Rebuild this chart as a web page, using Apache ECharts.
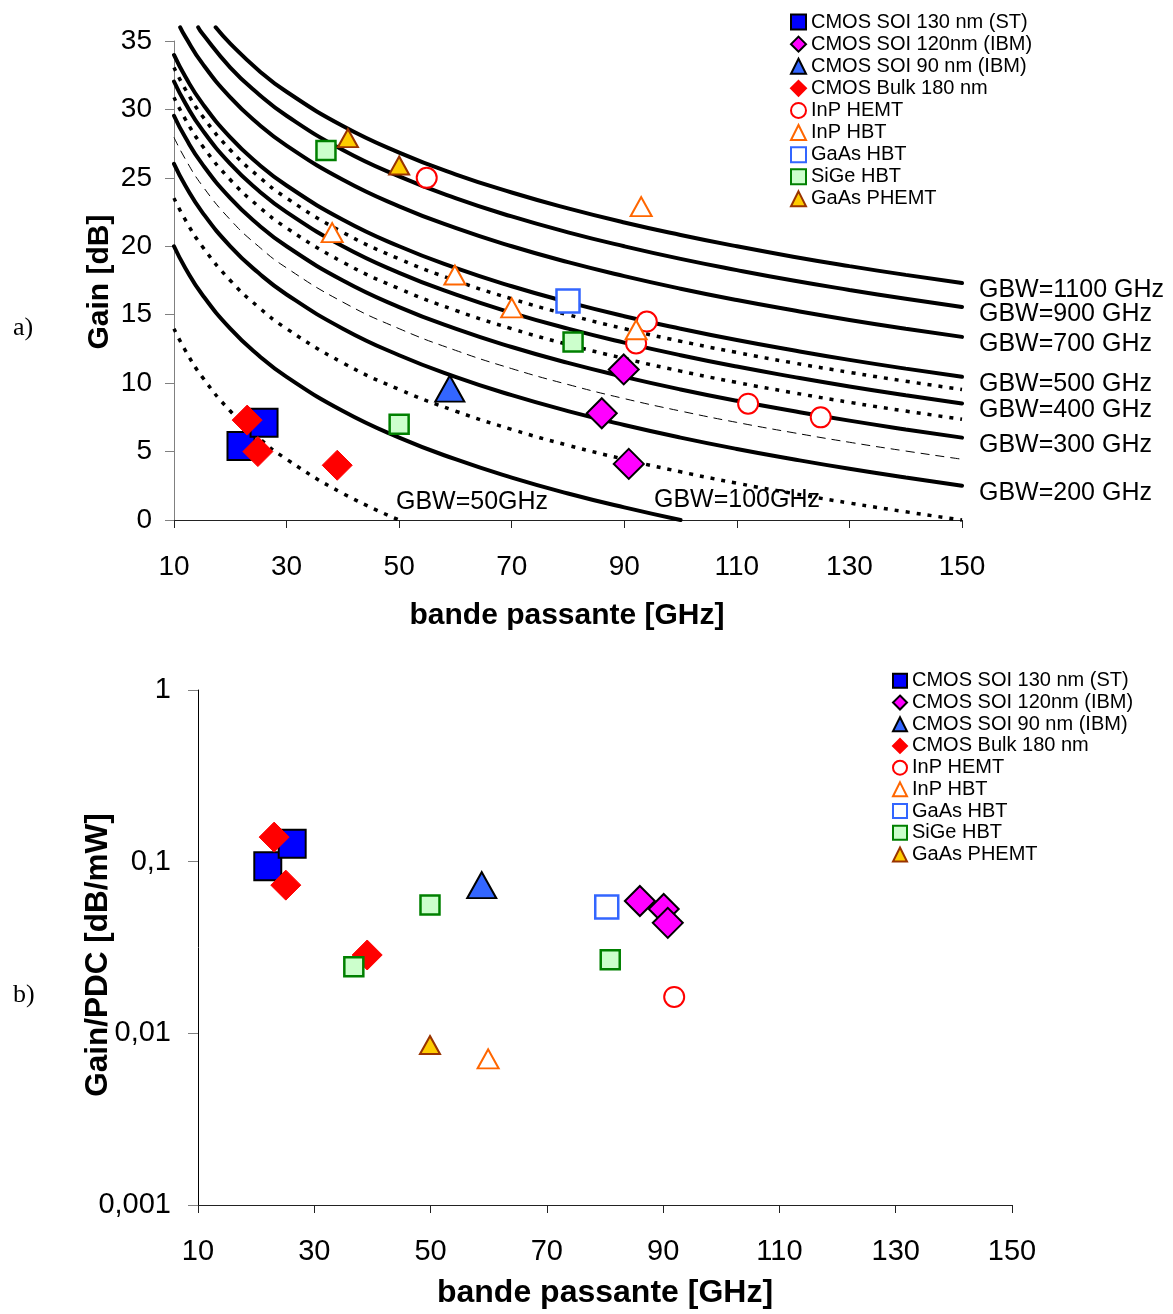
<!DOCTYPE html>
<html>
<head>
<meta charset="utf-8">
<script src="https://cdn.jsdelivr.net/npm/echarts@6/dist/echarts.min.js"></script>
<style>
html,body{margin:0;padding:0;background:#fff;}
#chart{width:1173px;height:1314px;}
</style>
</head>
<body>
<div id="chart"></div>
<script>
// ---------- DATA ----------
const seriesNames = ['CMOS SOI 130 nm (ST)','CMOS SOI 120nm (IBM)','CMOS SOI 90 nm (IBM)','CMOS Bulk 180 nm','InP HEMT','InP HBT','GaAs HBT','SiGe HBT','GaAs PHEMT'];

// GBW iso-curves (gain in dB read along bandwidth samples, GHz)
const bwSamples = [10,12,15,20,25,30,40,50,60,70,80,90,100,110,120,130,140,150];
const gain50   = [13.98,12.40,10.46,7.96,6.02,4.44,1.94,0];
const gain100  = [20.00,18.42,16.48,13.98,12.04,10.46,7.96,6.02,4.44,3.10,1.94,0.92,0];
const gain150  = [23.52,21.94,20.00,17.50,15.56,13.98,11.48,9.54,7.96,6.62,5.46,4.44,3.52,2.69,1.94,1.24,0.60,0];
const gain200  = [26.02,24.44,22.50,20.00,18.06,16.48,13.98,12.04,10.46,9.12,7.96,6.94,6.02,5.19,4.44,3.74,3.10,2.50];
const gain250  = [27.96,26.38,24.44,21.94,20.00,18.42,15.92,13.98,12.40,11.06,9.90,8.87,7.96,7.13,6.38,5.68,5.04,4.44];
const gain300  = [29.54,27.96,26.02,23.52,21.58,20.00,17.50,15.56,13.98,12.64,11.48,10.46,9.54,8.71,7.96,7.26,6.62,6.02];
const gain350  = [30.88,29.30,27.36,24.86,22.92,21.34,18.84,16.90,15.32,13.98,12.82,11.80,10.88,10.05,9.30,8.60,7.96,7.36];
const gain400  = [32.04,30.46,28.52,26.02,24.08,22.50,20.00,18.06,16.48,15.14,13.98,12.96,12.04,11.21,10.46,9.76,9.12,8.52];
const gain450  = [33.06,31.48,29.54,27.04,25.11,23.52,21.02,19.08,17.50,16.16,15.00,13.98,13.06,12.24,11.48,10.79,10.14,9.54];
const gain500  = [33.98,32.40,30.46,27.96,26.02,24.44,21.94,20.00,18.42,17.08,15.92,14.89,13.98,13.15,12.40,11.70,11.06,10.46];
const bw700    = [11.1,12,15,20,25,30,40,50,60,70,80,90,100,110,120,130,140,150];
const gain700  = [36.00,35.32,33.38,30.88,28.94,27.36,24.86,22.92,21.34,20.00,18.84,17.82,16.90,16.07,15.32,14.62,13.98,13.38];
const bw900    = [14.3,15,20,25,30,40,50,60,70,80,90,100,110,120,130,140,150];
const gain900  = [36.00,35.56,33.06,31.13,29.54,27.04,25.11,23.52,22.18,21.02,20.00,19.08,18.26,17.50,16.81,16.16,15.56];
const bw1100   = [17.4,20,25,30,40,50,60,70,80,90,100,110,120,130,140,150];
const gain1100 = [36.00,34.81,32.87,31.29,28.79,26.85,25.26,23.93,22.77,21.74,20.83,20.00,19.24,18.55,17.91,17.31];

// (a) Gain [dB] vs bandwidth [GHz]
const st130Top   = [[21.9,5.4],[26.0,7.1]];
const soi120Top  = [[89.9,11.0],[86.0,7.8],[90.8,4.1]];
const soi90Top   = [[59.0,9.6]];
const bulk180Top = [[23.0,7.3],[24.9,5.0],[39.0,4.0]];
const inpHemtTop = [[54.9,25.0],[94.0,14.5],[92.1,12.9],[112.0,8.5],[124.9,7.5]];
const inpHbtTop  = [[38.1,21.0],[59.9,17.9],[70.0,15.5],[92.1,13.9],[93.0,22.9]];
const gaasHbtTop = [[80.0,16.0]];
const sigeTop    = [[37.0,27.0],[50.0,7.0],[80.9,13.0]];
const phemtTop   = [[40.9,27.9],[50.0,25.9]];

// (b) Gain/PDC [dB/mW] vs bandwidth [GHz]
const st130Bot   = [[22.0,0.094],[26.2,0.127]];
const soi120Bot  = [[86.0,0.059],[90.1,0.053],[90.8,0.044]];
const soi90Bot   = [[58.8,0.073]];
const bulk180Bot = [[23.1,0.139],[25.1,0.073],[39.1,0.0286]];
const inpHemtBot = [[91.9,0.0163]];
const inpHbtBot  = [[59.9,0.0071]];
const gaasHbtBot = [[80.3,0.0545]];
const sigeBot    = [[36.8,0.0244],[49.9,0.056],[80.9,0.0268]];
const phemtBot   = [[49.9,0.00855]];

// ---------- STYLE / BUILD ----------
const FONT = '"Liberation Sans", Arial, sans-serif';
function pairs(xs, ys){ return ys.map((y,i)=>[xs[i], y]); }

const SOLID = {color:'#000', width:4, type:'solid', cap:'round'};
const DOT   = {color:'#000', width:3.5, type:[4,7], cap:'butt'};
const THIN  = {color:'#000', width:1, type:[9,6]};

const curves = [
  {gbw:50,   d:pairs(bwSamples,gain50),  s:DOT},
  {gbw:100,  d:pairs(bwSamples,gain100), s:SOLID},
  {gbw:150,  d:pairs(bwSamples,gain150), s:DOT},
  {gbw:200,  d:pairs(bwSamples,gain200), s:SOLID, label:true},
  {gbw:250,  d:pairs(bwSamples,gain250), s:THIN},
  {gbw:300,  d:pairs(bwSamples,gain300), s:SOLID, label:true},
  {gbw:350,  d:pairs(bwSamples,gain350), s:DOT},
  {gbw:400,  d:pairs(bwSamples,gain400), s:SOLID, label:true},
  {gbw:450,  d:pairs(bwSamples,gain450), s:DOT},
  {gbw:500,  d:pairs(bwSamples,gain500), s:SOLID, label:true},
  {gbw:700,  d:pairs(bw700,gain700),     s:SOLID, label:true},
  {gbw:900,  d:pairs(bw900,gain900),     s:SOLID, label:true},
  {gbw:1100, d:pairs(bw1100,gain1100),   s:SOLID, label:true}
];

const curveSeries = curves.map(c => ({
  type:'line', name:'GBW=' + c.gbw, xAxisIndex:0, yAxisIndex:0,
  data:c.d, showSymbol:false, symbol:'none', smooth:0.5,
  clip:false, silent:true, z:1, lineStyle:c.s,
  endLabel: c.label ? {show:true, formatter:'GBW=' + c.gbw + ' GHz', fontSize:25, fontFamily:FONT, color:'#000', distance:17, offset:[0,7]} : {show:false}
}));

const markerStyles = [
  {symbol:'rect',     size:[27,28], item:{color:'#0000FF', borderColor:'#000', borderWidth:2}},
  {symbol:'diamond',  size:[30,30], item:{color:'#FF00FF', borderColor:'#000', borderWidth:2}},
  {symbol:'triangle', size:[29,26], item:{color:'#3366FF', borderColor:'#000', borderWidth:2}},
  {symbol:'diamond',  size:[30,30], item:{color:'#FF0000', borderColor:'#FF0000', borderWidth:1}},
  {symbol:'circle',   size:[20,20], item:{color:'#FFFFFF', borderColor:'#FF0000', borderWidth:2}},
  {symbol:'triangle', size:[21,19], item:{color:'#FFFFFF', borderColor:'#FF6600', borderWidth:2}},
  {symbol:'rect',     size:[23,23], item:{color:'#FFFFFF', borderColor:'#3366FF', borderWidth:2.5}},
  {symbol:'rect',     size:[19,19], item:{color:'#CCFFCC', borderColor:'#008000', borderWidth:2.5}},
  {symbol:'triangle', size:[20,18], item:{color:'#FFCC00', borderColor:'#993300', borderWidth:2}}
];
const topData = [st130Top, soi120Top, soi90Top, bulk180Top, inpHemtTop, inpHbtTop, gaasHbtTop, sigeTop, phemtTop];
const botData = [st130Bot, soi120Bot, soi90Bot, bulk180Bot, inpHemtBot, inpHbtBot, gaasHbtBot, sigeBot, phemtBot];

function scatterSeries(dataList, axisIdx){
  return dataList.map((d,i)=>({
    type:'scatter', name:seriesNames[i], xAxisIndex:axisIdx, yAxisIndex:axisIdx,
    data:d, symbol:markerStyles[i].symbol, symbolSize:markerStyles[i].size,
    itemStyle:Object.assign({opacity:1}, markerStyles[i].item), z:3 + i*0.01, clip:false
  }));
}

const legendBase = {
  data:seriesNames, orient:'vertical', itemGap:0,
  selectedMode:false, padding:0,
  textStyle:{fontSize:20, fontFamily:FONT, color:'#000'}
};

const axisLabelStyle = {fontSize:28, fontFamily:FONT, color:'#000'};
const axisLabelStyleB = {fontSize:29, fontFamily:FONT, color:'#000'};

const option = {
  animation:false,
  backgroundColor:'#fff',
  grid:[
    {left:174, top:41, width:788, height:479, containLabel:false, outerBoundsMode:'none'},
    {left:198, top:690, width:814, height:515, containLabel:false, outerBoundsMode:'none'}
  ],
  legend:[
    Object.assign({}, legendBase, {left:790, top:11, itemWidth:15, itemHeight:15, textStyle:Object.assign({}, legendBase.textStyle, {lineHeight:22.1})}),
    Object.assign({}, legendBase, {left:892, top:670, itemWidth:14, itemHeight:14, textStyle:Object.assign({}, legendBase.textStyle, {lineHeight:21.7})})
  ],
  xAxis:[
    {gridIndex:0, type:'value', min:10, max:150, interval:20,
     splitLine:{show:false},
     axisLine:{show:true, onZero:false, lineStyle:{color:'#222', width:1}},
     axisTick:{show:true, inside:false, length:8, lineStyle:{color:'#222'}},
     axisLabel:Object.assign({margin:33}, axisLabelStyle)},
    {gridIndex:1, type:'value', min:10, max:150, interval:20,
     splitLine:{show:false},
     axisLine:{show:true, onZero:false, lineStyle:{color:'#222', width:1}},
     axisTick:{show:true, inside:false, length:8, lineStyle:{color:'#222'}},
     axisLabel:Object.assign({margin:32}, axisLabelStyleB)}
  ],
  yAxis:[
    {gridIndex:0, type:'value', min:0, max:35, interval:5,
     splitLine:{show:false},
     axisLine:{show:true, onZero:false, lineStyle:{color:'#808080', width:1}},
     axisTick:{show:true, inside:false, length:9, lineStyle:{color:'#808080'}},
     axisLabel:Object.assign({margin:22}, axisLabelStyle)},
    {gridIndex:1, type:'log', logBase:10, min:0.001, max:1,
     splitLine:{show:false}, minorTick:{show:false},
     axisLine:{show:true, onZero:false, lineStyle:{color:'#000', width:1}},
     axisTick:{show:true, inside:false, length:10, lineStyle:{color:'#808080'}},
     axisLabel:Object.assign({margin:27, formatter:function(v){ return String(Number(Number(v).toPrecision(3))).replace('.', ','); }}, axisLabelStyleB)}
  ],
  graphic:[
    {type:'text', x:100, y:282, rotation:Math.PI/2, style:{text:'Gain [dB]', font:'bold 30px ' + FONT, fill:'#000', align:'center', verticalAlign:'middle'}},
    {type:'text', x:567, y:616, style:{text:'bande passante [GHz]', font:'bold 30px ' + FONT, fill:'#000', align:'center', verticalAlign:'middle'}},
    {type:'text', x:98, y:955, rotation:Math.PI/2, style:{text:'Gain/PDC [dB/mW]', font:'bold 31.5px ' + FONT, fill:'#000', align:'center', verticalAlign:'middle'}},
    {type:'text', x:605, y:1293, style:{text:'bande passante [GHz]', font:'bold 32px ' + FONT, fill:'#000', align:'center', verticalAlign:'middle'}},
    {type:'text', x:13, y:328, style:{text:'a)', font:'26px "Liberation Serif", "Times New Roman", serif', fill:'#000', align:'left', verticalAlign:'middle'}},
    {type:'text', x:13, y:995, style:{text:'b)', font:'26px "Liberation Serif", "Times New Roman", serif', fill:'#000', align:'left', verticalAlign:'middle'}},
    {type:'text', x:396, y:502, z:10, style:{text:'GBW=50GHz', font:'25px ' + FONT, fill:'#000', align:'left', verticalAlign:'middle'}},
    {type:'text', x:654, y:500, z:10, style:{text:'GBW=100GHz', font:'25px ' + FONT, fill:'#000', align:'left', verticalAlign:'middle'}}
  ],
  series: curveSeries.concat(scatterSeries(topData, 0), scatterSeries(botData, 1))
};

const chart = echarts.init(document.getElementById('chart'), null, {renderer:'canvas'});
chart.setOption(option);
</script>
</body>
</html>
